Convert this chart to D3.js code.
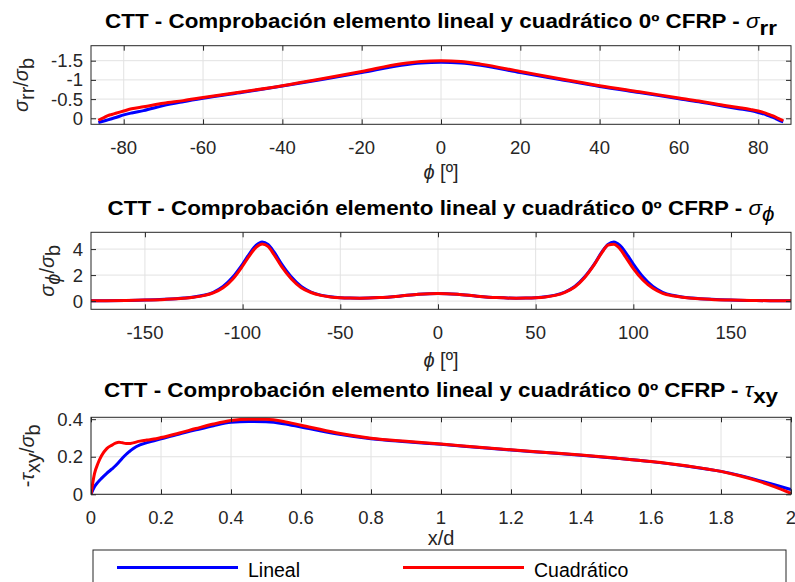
<!DOCTYPE html>
<html>
<head>
<meta charset="utf-8">
<script src="https://cdn.jsdelivr.net/npm/d3@7"></script>
<style>
body { margin: 0; background: #fff; }
text { font-family: "Liberation Sans", Arial, Helvetica, sans-serif; }
</style>
</head>
<body>
<svg id="chart" width="795" height="582"></svg>
<script>
// sigma_rr / sigma_b vs phi
var phiRR = [-86.4, -85, -84, -83, -82, -80, -78, -75, -70, -65, -60, -50, -40, -30, -20, -10, -5, 0,
             5, 10, 20, 30, 40, 50, 60, 65, 70, 75, 78, 80, 82, 83, 84, 85, 86.3]
var rrLineal = [0.11, 0.07, 0.04, 0.01, -0.02, -0.09, -0.14, -0.2, -0.33, -0.43, -0.52, -0.68, -0.84, -1.01, -1.19, -1.38, -1.44, -1.46,
                -1.44, -1.38, -1.19, -1.01, -0.83, -0.67, -0.51, -0.43, -0.34, -0.25, -0.2, -0.15, -0.09, -0.05, -0.01, 0.04, 0.09]
var rrCuad = [0.05, -0.02, -0.07, -0.1, -0.13, -0.19, -0.25, -0.3, -0.39, -0.46, -0.54, -0.69, -0.85, -1.03, -1.22, -1.42, -1.48, -1.5,
              -1.48, -1.41, -1.22, -1.03, -0.85, -0.69, -0.53, -0.45, -0.36, -0.28, -0.23, -0.19, -0.13, -0.09, -0.05, 0, 0.06]

// sigma_phi / sigma_b vs phi
var phiPP = [-177.6, -170, -160, -150, -140, -130, -125, -120, -115, -110, -105, -100, -96, -93, -90, -87, -84, -80, -75, -70,
             -65, -60, -55, -50, -45, -40, -30, -20, -10, 0,
             10, 20, 30, 40, 45, 50, 55, 60, 65, 70, 75, 80, 84, 87, 90, 93, 96, 100, 105, 110,
             115, 120, 125, 130, 140, 150, 160, 170, 180.7]
var ppLineal = [0.02, 0.03, 0.05, 0.08, 0.14, 0.24, 0.32, 0.45, 0.68, 1.12, 1.85, 2.85, 3.75, 4.3, 4.55, 4.35, 3.8, 2.85, 1.85, 1.12,
                0.7, 0.46, 0.33, 0.26, 0.23, 0.22, 0.27, 0.38, 0.52, 0.58,
                0.52, 0.38, 0.27, 0.22, 0.23, 0.26, 0.33, 0.46, 0.7, 1.12, 1.85, 2.85, 3.8, 4.35, 4.55, 4.3, 3.75, 2.85, 1.85, 1.12,
                0.68, 0.45, 0.32, 0.24, 0.14, 0.08, 0.05, 0.03, 0.02]
var ppCuad = [0.02, 0.03, 0.05, 0.08, 0.13, 0.22, 0.3, 0.42, 0.63, 1.02, 1.7, 2.7, 3.6, 4.15, 4.4, 4.2, 3.6, 2.65, 1.7, 1.03,
              0.66, 0.44, 0.32, 0.26, 0.23, 0.22, 0.27, 0.38, 0.52, 0.58,
              0.52, 0.38, 0.27, 0.22, 0.23, 0.26, 0.32, 0.44, 0.68, 1.08, 1.8, 2.8, 3.75, 4.3, 4.38, 4.05, 3.4, 2.5, 1.6, 0.98,
              0.6, 0.41, 0.3, 0.22, 0.13, 0.08, 0.05, 0.03, 0.02]

// -tau_xy / sigma_b vs x/d
var xd = [0, 0.01, 0.02, 0.03, 0.045, 0.06, 0.07, 0.08, 0.09, 0.1, 0.11, 0.12, 0.14, 0.16, 0.18, 0.2, 0.25, 0.3, 0.35, 0.4,
          0.45, 0.5, 0.55, 0.6, 0.7, 0.8, 0.9, 1.0, 1.1, 1.2, 1.3, 1.4, 1.5, 1.6, 1.7, 1.8, 1.85, 1.9, 1.95, 2.0]
var txyLineal = [0, 0.04, 0.065, 0.085, 0.112, 0.135, 0.152, 0.172, 0.193, 0.212, 0.228, 0.243, 0.263, 0.275, 0.285, 0.295, 0.32, 0.343, 0.365, 0.383,
                 0.388, 0.386, 0.376, 0.358, 0.322, 0.296, 0.28, 0.266, 0.251, 0.236, 0.222, 0.208, 0.192, 0.174, 0.151, 0.122, 0.102, 0.078, 0.052, 0.025]
var txyCuad = [0, 0.11, 0.165, 0.205, 0.243, 0.262, 0.272, 0.277, 0.274, 0.27, 0.27, 0.274, 0.283, 0.289, 0.294, 0.302, 0.325, 0.35, 0.374, 0.393,
               0.4, 0.399, 0.388, 0.368, 0.328, 0.299, 0.282, 0.268, 0.252, 0.237, 0.223, 0.209, 0.193, 0.175, 0.152, 0.122, 0.1, 0.074, 0.042, 0.005]

var xTicksRR = [-80, -60, -40, -20, 0, 20, 40, 60, 80]
,   yTicksRR = [-1.5, -1, -0.5, 0]
,   xTicksPP = [-150, -100, -50, 0, 50, 100, 150]
,   yTicksPP = [0, 2, 4]
,   xTicksTXY = [0, 0.2, 0.4, 0.6, 0.8, 1, 1.2, 1.4, 1.6, 1.8, 2]
,   yTicksTXY = [0, 0.2, 0.4]

var seriesNames = ['Lineal', 'Cuadrático']
,   seriesColors = ['#0000ff', '#ff0000']
,   titleText = 'CTT - Comprobación elemento lineal y cuadrático 0º CFRP - '

var AX_COLOR = '#262626'
,   GRID_COLOR = '#e2e2e2'
,   LEFT = 91
,   RIGHT = 791

var svg = d3.select('#chart')

// plain hyphen minus, like the original figure
function fmtTick(d) { return String(+d.toFixed(1)) }

// parts: [{t, italic, bold, sub}]
function richText(sel, parts, size) {
  var shift = size * 0.32
  ,   down = false
  parts.forEach(function(p) {
    var ts = sel.append('tspan').text(p.t)
    if (p.italic) ts.attr('font-style', 'italic')
    if (p.bold === true) ts.attr('font-weight', 'bold')
    if (p.bold === false) ts.attr('font-weight', 'normal')
    if (p.sub && !down) { ts.attr('dy', shift); down = true }
    else if (!p.sub && down) { ts.attr('dy', -shift); down = false }
  })
  return sel
}

var panels = [
  {
    top: 45.7, bottom: 124.3, xDomain: [-88.25, 88.25], yDomain: [0.156, -1.89],
    x: phiRR, ys: [rrLineal, rrCuad], xTicks: xTicksRR, yTicks: yTicksRR,
    titleY: 28.3, sym: [{t: 'σ', italic: true, bold: false}, {t: 'rr', sub: true, bold: true}],
    xLabel: [{t: 'ϕ', italic: true}, {t: ' [º]'}], xLabelY: 179,
    yLabel: [{t: 'σ', italic: true}, {t: 'rr', sub: true}, {t: '/'}, {t: 'σ', italic: true}, {t: 'b', sub: true}], yLabelX: 28
  },
  {
    top: 232.3, bottom: 309.3, xDomain: [-177.6, 180.7], yDomain: [-0.63, 5.29],
    x: phiPP, ys: [ppLineal, ppCuad], xTicks: xTicksPP, yTicks: yTicksPP,
    titleY: 215, sym: [{t: 'σ', italic: true, bold: false}, {t: 'ϕ', sub: true, italic: true, bold: false}],
    xLabel: [{t: 'ϕ', italic: true}, {t: ' [º]'}], xLabelY: 367,
    yLabel: [{t: 'σ', italic: true}, {t: 'ϕ', sub: true, italic: true}, {t: '/'}, {t: 'σ', italic: true}, {t: 'b', sub: true}], yLabelX: 54
  },
  {
    top: 417.3, bottom: 494.3, xDomain: [0, 2], yDomain: [0, 0.41],
    x: xd, ys: [txyLineal, txyCuad], xTicks: xTicksTXY, yTicks: yTicksTXY,
    titleY: 396.7, sym: [{t: 'τ', italic: true, bold: false}, {t: 'xy', sub: true, bold: true}],
    xLabel: [{t: 'x/d'}], xLabelY: 545,
    yLabel: [{t: '-'}, {t: 'τ', italic: true}, {t: 'xy', sub: true}, {t: '/'}, {t: 'σ', italic: true}, {t: 'b', sub: true}], yLabelX: 34
  }
]

panels.forEach(function(p, i) {
  var x = d3.scaleLinear().domain(p.xDomain).range([LEFT, RIGHT])
  ,   y = d3.scaleLinear().domain(p.yDomain).range([p.bottom, p.top])
  ,   g = svg.append('g').attr('class', 'panel panel' + i)
  ,   clipId = 'clip' + i

  g.append('clipPath').attr('id', clipId)
    .append('rect')
    .attr('x', LEFT).attr('y', p.top)
    .attr('width', RIGHT - LEFT).attr('height', p.bottom - p.top)

  // grid
  g.append('g').selectAll('line.vg')
    .data(p.xTicks)
    .enter().append('line')
    .attr('x1', (d) => x(d)).attr('x2', (d) => x(d))
    .attr('y1', p.top).attr('y2', p.bottom)
    .attr('stroke', GRID_COLOR).attr('stroke-width', 1)
  g.append('g').selectAll('line.hg')
    .data(p.yTicks)
    .enter().append('line')
    .attr('y1', (d) => y(d)).attr('y2', (d) => y(d))
    .attr('x1', LEFT).attr('x2', RIGHT)
    .attr('stroke', GRID_COLOR).attr('stroke-width', 1)

  // data
  var line = d3.line().curve(d3.curveMonotoneX)
  p.ys.forEach(function(vals, k) {
    g.append('path')
      .datum(p.x.map((v, j) => [v, vals[j]]))
      .attr('clip-path', 'url(#' + clipId + ')')
      .attr('fill', 'none')
      .attr('stroke', seriesColors[k])
      .attr('stroke-width', 3)
      .attr('stroke-linejoin', 'round')
      .attr('d', line.x((d) => x(d[0])).y((d) => y(d[1])))
  })

  // axes: ticks on all four sides, pointing inward
  var TL = 5
  g.append('g').attr('transform', 'translate(0,' + p.bottom + ')')
    .call(d3.axisTop(x).tickValues(p.xTicks).tickSize(TL).tickFormat(''))
  g.append('g').attr('transform', 'translate(0,' + p.top + ')')
    .call(d3.axisBottom(x).tickValues(p.xTicks).tickSize(TL).tickFormat(''))
  g.append('g').attr('transform', 'translate(' + LEFT + ',0)')
    .call(d3.axisRight(y).tickValues(p.yTicks).tickSize(TL).tickFormat(''))
  g.append('g').attr('transform', 'translate(' + RIGHT + ',0)')
    .call(d3.axisLeft(y).tickValues(p.yTicks).tickSize(TL).tickFormat(''))
  g.selectAll('.domain').remove()
  g.selectAll('.tick line').attr('stroke', AX_COLOR)

  g.append('rect')
    .attr('x', LEFT).attr('y', p.top)
    .attr('width', RIGHT - LEFT).attr('height', p.bottom - p.top)
    .attr('fill', 'none').attr('stroke', AX_COLOR).attr('stroke-width', 1)

  // tick labels
  g.append('g').selectAll('text')
    .data(p.xTicks)
    .enter().append('text')
    .attr('x', (d) => x(d)).attr('y', p.bottom + 29.5)
    .attr('text-anchor', 'middle')
    .attr('font-size', 18.5).attr('fill', AX_COLOR)
    .text(fmtTick)
  g.append('g').selectAll('text')
    .data(p.yTicks)
    .enter().append('text')
    .attr('x', LEFT - 8).attr('y', (d) => y(d)).attr('dy', '0.35em')
    .attr('text-anchor', 'end')
    .attr('font-size', 18.5).attr('fill', AX_COLOR)
    .text(fmtTick)

  // title
  var t = g.append('text')
    .attr('transform', 'translate(441,' + p.titleY + ') scale(1.12,1)')
    .attr('text-anchor', 'middle')
    .attr('font-size', 20).attr('font-weight', 'bold').attr('fill', '#000')
  richText(t, [{t: titleText}].concat(p.sym), 20)

  // axis labels
  var xl = g.append('text')
    .attr('x', 441).attr('y', p.xLabelY)
    .attr('text-anchor', 'middle')
    .attr('font-size', 20).attr('fill', AX_COLOR)
  richText(xl, p.xLabel, 20)

  var yl = g.append('text')
    .attr('transform', 'translate(' + p.yLabelX + ',' + ((p.top + p.bottom) / 2) + ') rotate(-90)')
    .attr('text-anchor', 'middle')
    .attr('font-size', 20).attr('fill', AX_COLOR)
  richText(yl, p.yLabel, 20)
})

// legend
var lg = svg.append('g').attr('class', 'legend')
lg.append('rect')
  .attr('x', 93).attr('y', 550).attr('width', 693).attr('height', 60)
  .attr('fill', '#fff').attr('stroke', AX_COLOR).attr('stroke-width', 1)
var legendX = [117, 403]
seriesNames.forEach(function(name, k) {
  lg.append('line')
    .attr('x1', legendX[k]).attr('x2', legendX[k] + 121)
    .attr('y1', 567.5).attr('y2', 567.5)
    .attr('stroke', seriesColors[k]).attr('stroke-width', 3)
  lg.append('text')
    .attr('x', legendX[k] + 131).attr('y', 576.5)
    .attr('font-size', 19.5).attr('fill', '#000')
    .text(name)
})
</script>
</body>
</html>
